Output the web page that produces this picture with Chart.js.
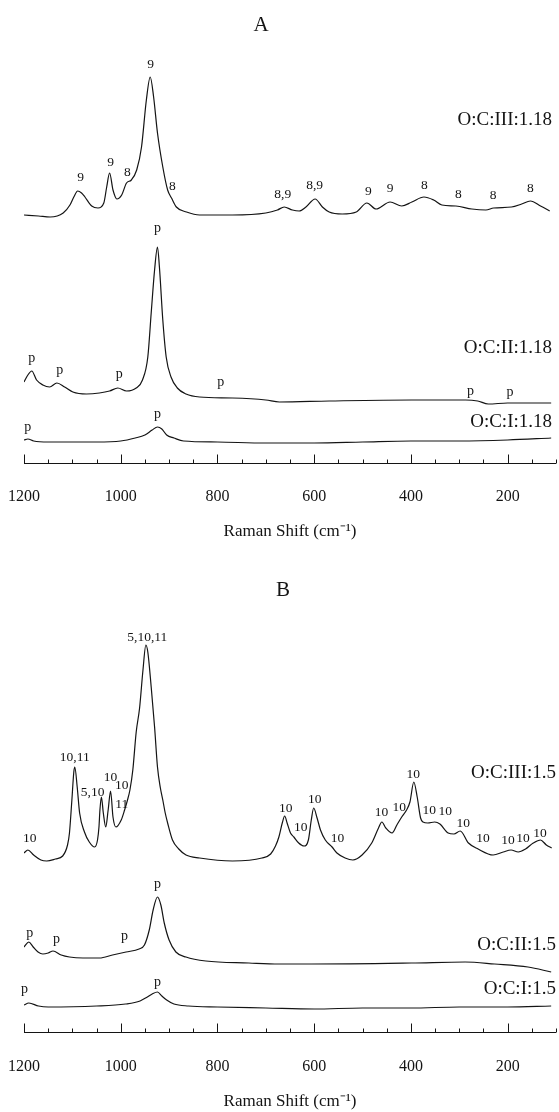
<!DOCTYPE html>
<html>
<head>
<meta charset="utf-8">
<script src="https://cdn.jsdelivr.net/npm/chart.js@4.4.1/dist/chart.umd.min.js"></script>
<style>
  html, body { margin: 0; padding: 0; background: #fff; }
  .panel { position: relative; width: 559px; height: 556px; }
  canvas { display: block; }
</style>
</head>
<body>
<div class="panel"><canvas id="panelA" width="559" height="556"></canvas></div>
<div class="panel"><canvas id="panelB" width="559" height="556"></canvas></div>
<script>
// ---------- Panel A: Raman spectra, O:C ratio 1.18 ----------
const aIIIShift = [1200,1170,1146,1119,1105,1097,1089,1081,1074,1060,1047,1035,1029,1023,1016,1008,998,988,978,967,957,947,939,932,924,913,903,895,885,864,837,769,700,676,662,645,631,617,598,583,569,542,513,491,472,443,419,398,373,353,336,307,274,245,229,192,171,153,132,113];
const aIIIInt   = [0,-1,-2,2,10,18,24,22,18,9,7,12,28,42,25,16,20,32,35,45,68,115,138,118,82,48,25,17,8,3,0,0,2,5,8,5,4,8,16,8,3,1,3,12,6,13,9,13,18,15,10,9,6,5,7,8,11,14,9,4];
const aIIILabelText  = ['9','9','8','9','8','8,9','8,9','9','9','8','8','8','8'];
const aIIILabelShift = [1083,1021,986,938,893,665,599,488,443,372,302,230,153];

const aIIShift = [1200,1192,1184,1174,1161,1147,1132,1116,1099,1071,1044,1023,1006,988,968,955,944,937,930,924,920,913,906,896,883,865,837,769,700,672,569,399,287,262,240,200,110];
const aIIInt   = [18,25,29,20,15,13,17,13,8,6,7,9,12,9,12,20,43,87,130,153,133,80,43,23,12,6,3,2,0,-2,-1,0,0,-1,-4,-3,-3];
const aIILabelText  = ['p','p','p','p','p','p','p'];
const aIILabelShift = [1184,1126,1003,924,793,277,195];

const aIShift = [1200,1192,1180,1150,1050,1000,970,950,935,924,915,905,890,870,800,700,600,500,400,300,200,110];
const aIInt   = [3,4,2,1,1,2,5,8,13,16,14,8,5,2,1,0,0,1,2,2,3,5];
const aILabelText  = ['p','p'];
const aILabelShift = [1192,924];

// ---------- Panel B: Raman spectra, O:C ratio 1.5 ----------
const bIIIShift = [1200,1192,1180,1165,1153,1135,1120,1110,1106,1101,1097,1095,1090,1085,1075,1065,1054,1048,1045,1043,1040,1036,1031,1026,1021,1016,1010,999,992,986,981,975,968,961,954,948,944,937,930,924,918,913,908,903,893,880,865,837,769,708,690,680,673,666,661,656,649,642,632,621,612,606,601,594,587,577,563,553,536,520,501,481,467,460,452,439,429,419,409,402,394,387,380,375,365,351,340,323,311,298,281,261,230,209,193,178,163,147,132,120,109];
const bIIIInt   = [7,10,5,0,-1,1,4,15,27,60,88,93,73,47,28,18,13,20,33,50,63,47,33,50,69,43,33,40,50,60,70,90,128,152,190,215,208,173,133,93,72,60,47,37,20,11,5,2,-1,2,6,14,23,37,44,37,27,23,17,14,20,40,52,42,30,20,13,7,2,0,5,17,32,38,32,27,35,43,50,58,78,63,42,38,37,38,36,27,26,29,17,11,5,8,10,8,11,17,20,15,12];
const bIIILabelText  = ['10','10,11','5,10','10','10','11','5,10,11','10','10','10','10','10','10','10','10','10','10','10','10','10','10'];
const bIIILabelShift = [1188,1095,1058,1021,998,998,945,659,628,599,552,461,424,395,362,329,292,251,199,168,133];

const bIIShift = [1200,1190,1181,1171,1161,1150,1140,1123,1106,1078,1044,1017,989,962,951,941,933,924,917,910,900,886,865,824,735,673,605,399,288,227,158,110];
const bIIInt   = [15,20,15,10,8,9,11,7,5,4,4,7,10,13,17,32,52,65,57,39,22,10,5,1,-1,-2,-2,-1,0,-2,-5,-10];
const bIILabelText  = ['p','p','p','p'];
const bIILabelShift = [1188,1133,992,924];

const bIShift = [1200,1190,1170,1150,1050,990,960,945,935,924,915,905,890,860,800,700,600,500,400,300,200,110];
const bIInt   = [3,5,2,1,2,4,7,11,14,16,12,8,4,2,1,0,-1,0,0,1,1,2];
const bILabelText  = ['p','p'];
const bILabelShift = [1199,924];

const traceNamesA = ['O:C:III:1.18', 'O:C:II:1.18', 'O:C:I:1.18'];
const traceNamesB = ['O:C:III:1.5', 'O:C:II:1.5', 'O:C:I:1.5'];
const xTickLabels = [1200, 1000, 800, 600, 400, 200];

// ---------- layout (vertical stacking and annotation placement) ----------
const stackA = [248, 63, 20];      // baseline of each trace above the axis
const stackB = [172, 70, 24];
const nameLevelA = [343, 115, 41]; // where each trace name sits
const nameLevelB = [259, 87, 43];
const liftAIII = [15,15,10,15,13,13,14,12,14,12,12,13,13];
const liftAII  = [13,14,14,19,15,9,11];
const liftAI   = [12,13];
const liftBIII = [13,10,53,14,33,14,13,10,17,11,15,10,14,10,12,18,12,12,10,12,7];
const liftBII  = [10,13,16,13];
const liftBI   = [15,10];

const SERIF = '"Liberation Serif", "Times New Roman", Times, serif';
const INK = '#141414';

function buildPoints(shifts, ints, offset) {
  return shifts.map((s, i) => ({ x: s, y: offset + ints[i] }));
}

function valueAt(points, shift) {
  for (let i = 0; i < points.length - 1; i++) {
    const a = points[i], b = points[i + 1];
    if (shift <= a.x && shift >= b.x) {
      const t = (a.x - shift) / (a.x - b.x || 1);
      return a.y + t * (b.y - a.y);
    }
  }
  return points[points.length - 1].y;
}

// Axis line with inward ticks, panel letter, trace names and band assignments
const spectrumDecor = {
  id: 'spectrumDecor',
  afterDatasetsDraw(chart, args, opts) {
    const { ctx, chartArea, scales: { x, y } } = chart;
    ctx.save();

    const base = Math.round(chartArea.bottom) + 0.5;
    ctx.strokeStyle = INK;
    ctx.lineWidth = 1;
    ctx.beginPath();
    ctx.moveTo(x.getPixelForValue(x.max), base);
    ctx.lineTo(x.getPixelForValue(x.min), base);
    for (let v = x.min; v <= x.max; v += 50) {
      const px = Math.round(x.getPixelForValue(v)) + 0.5;
      const len = v % 200 === 0 ? 9 : 4;
      ctx.moveTo(px, base);
      ctx.lineTo(px, base - len);
    }
    ctx.stroke();

    ctx.fillStyle = INK;
    ctx.textAlign = 'center';
    ctx.textBaseline = 'middle';
    ctx.font = `21px ${SERIF}`;
    ctx.fillText(opts.letter, opts.letterX, opts.letterY);

    chart.data.datasets.forEach((ds) => {
      ctx.textAlign = 'right';
      ctx.font = `19px ${SERIF}`;
      ctx.fillText(ds.traceName, chartArea.right - opts.nameInset, y.getPixelForValue(ds.nameLevel));

      ctx.textAlign = 'center';
      ds.peakText.forEach((txt, i) => {
        const s = ds.peakShift[i];
        const py = y.getPixelForValue(valueAt(ds.data, s)) - ds.peakLift[i];
        ctx.font = txt === 'p' ? `14px ${SERIF}` : `13.5px ${SERIF}`;
        ctx.fillText(txt, x.getPixelForValue(s), py);
      });
    });
    ctx.restore();
  }
};

function makePanel(id, p) {
  return new Chart(document.getElementById(id), {
    type: 'line',
    data: {
      datasets: p.traces.map((t) => ({
        data: buildPoints(t.shift, t.int, t.offset),
        borderColor: INK,
        borderWidth: 1.2,
        pointRadius: 0,
        fill: false,
        cubicInterpolationMode: 'monotone',
        traceName: t.name,
        nameLevel: t.nameLevel,
        peakText: t.labelText,
        peakShift: t.labelShift,
        peakLift: t.lift
      }))
    },
    options: {
      responsive: false,
      animation: false,
      devicePixelRatio: 1,
      layout: { padding: { left: 24, right: 3, top: 0, bottom: 0 } },
      plugins: {
        legend: { display: false },
        tooltip: { enabled: false },
        title: { display: false },
        spectrumDecor: { letter: p.letter, letterX: p.letterX, letterY: p.letterY, nameInset: p.nameInset }
      },
      scales: {
        x: {
          type: 'linear',
          reverse: true,
          min: 100,
          max: 1200,
          afterFit: (s) => {
            s.height = p.axisHeight;
            s.paddingLeft = 0;
            s.paddingRight = 0;
          },
          grid: { display: false, drawTicks: false },
          border: { display: false },
          ticks: {
            stepSize: 50,
            autoSkip: false,
            maxRotation: 0,
            padding: p.tickPad,
            color: INK,
            font: { family: SERIF, size: 16 },
            callback: (v) => (xTickLabels.includes(v) ? String(v) : '')
          },
          title: {
            display: true,
            text: 'Raman Shift (cm⁻¹)',
            color: INK,
            font: { family: SERIF, size: 17 },
            padding: { top: 0, bottom: p.titlePad }
          }
        },
        y: { display: false, min: 0, max: p.yMax }
      }
    },
    plugins: [spectrumDecor]
  });
}

makePanel('panelA', {
  letter: 'A', letterX: 261, letterY: 25, nameInset: 4,
  axisHeight: 93, yMax: 463, tickPad: 24, titlePad: 14,
  traces: [
    { shift: aIIIShift, int: aIIIInt, offset: stackA[0], name: traceNamesA[0], nameLevel: nameLevelA[0], labelText: aIIILabelText, labelShift: aIIILabelShift, lift: liftAIII },
    { shift: aIIShift,  int: aIIInt,  offset: stackA[1], name: traceNamesA[1], nameLevel: nameLevelA[1], labelText: aIILabelText,  labelShift: aIILabelShift,  lift: liftAII },
    { shift: aIShift,   int: aIInt,   offset: stackA[2], name: traceNamesA[2], nameLevel: nameLevelA[2], labelText: aILabelText,   labelShift: aILabelShift,   lift: liftAI }
  ]
});

makePanel('panelB', {
  letter: 'B', letterX: 283, letterY: 34, nameInset: 0,
  axisHeight: 80, yMax: 476, tickPad: 25, titlePad: 0,
  traces: [
    { shift: bIIIShift, int: bIIIInt, offset: stackB[0], name: traceNamesB[0], nameLevel: nameLevelB[0], labelText: bIIILabelText, labelShift: bIIILabelShift, lift: liftBIII },
    { shift: bIIShift,  int: bIIInt,  offset: stackB[1], name: traceNamesB[1], nameLevel: nameLevelB[1], labelText: bIILabelText,  labelShift: bIILabelShift,  lift: liftBII },
    { shift: bIShift,   int: bIInt,   offset: stackB[2], name: traceNamesB[2], nameLevel: nameLevelB[2], labelText: bILabelText,   labelShift: bILabelShift,   lift: liftBI }
  ]
});
</script>
</body>
</html>
